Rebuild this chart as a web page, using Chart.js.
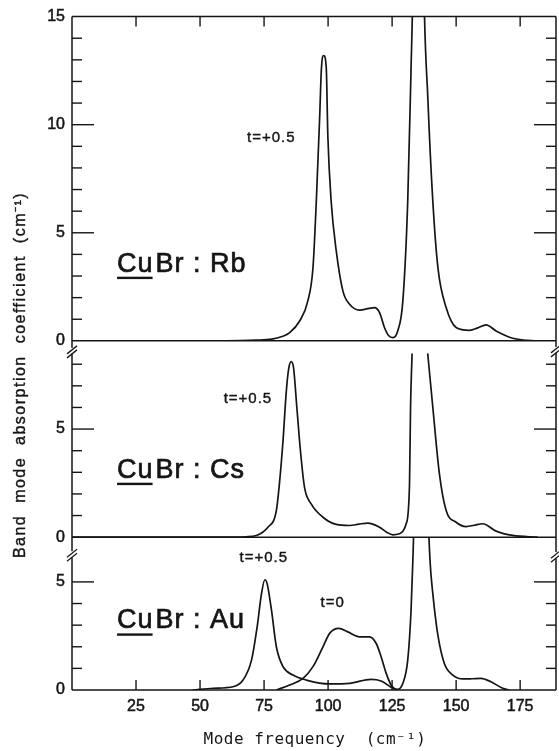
<!DOCTYPE html>
<html><head><meta charset="utf-8">
<script src="https://cdn.jsdelivr.net/npm/chart.js@4"></script>
<style>html,body{margin:0;padding:0;background:#fff}canvas{display:block}</style>
</head><body>
<canvas id="c" width="559" height="751"></canvas>
<script>
// ---- data (mode frequency in cm^-1, absorption coefficient in cm^-1) ----
const rbFreq = [0, 60, 72, 78, 82, 85, 88.9, 92.1, 94.1, 95.4, 96.7, 97.4, 98.3, 99.3, 99.9, 101.2, 103.2, 105.8, 108.4, 112.3, 116, 118.1, 120.1, 122, 123.6, 125.3, 127.2, 129.2, 131.1, 132.4, 133.2, 135.2, 137.3, 139, 140.9, 142.9, 146.1, 150, 155.2, 158.5, 161.7, 165.6, 172.1, 178, 182.5];
const rbAbs  = [0, 0, 0.03, 0.08, 0.2, 0.38, 0.92, 1.85, 3.38, 6.46, 10.3, 12.6, 13.2, 12.6, 9.5, 6.46, 4.15, 2.3, 1.69, 1.42, 1.5, 1.54, 1.31, 0.62, 0.25, 0.15, 0.46, 1.85, 6.46, 12.6, 17, 40, 17, 11.1, 6.46, 3.38, 1.54, 0.62, 0.49, 0.6, 0.74, 0.46, 0.12, 0.02, 0];

const csFreq = [0, 60, 68, 72, 76.5, 79.8, 81.1, 82.4, 83.7, 84.7, 85.6, 86.5, 87.8, 89.2, 90.8, 93.4, 98, 103.2, 108.4, 112, 115.5, 120.1, 123, 125.3, 127.9, 130.5, 131.8, 132.2, 132.8, 135.8, 138.9, 140.9, 143.5, 146.1, 150, 153.9, 157, 160.4, 165.6, 172.1, 181.8];
const csAbs  = [0, 0, 0.02, 0.08, 0.46, 1.23, 2.6, 4.46, 6.77, 7.85, 8.12, 7.85, 6, 4, 2.3, 1.54, 0.92, 0.59, 0.54, 0.6, 0.65, 0.46, 0.22, 0.11, 0.16, 0.62, 2.46, 6, 8.5, null, 8.5, 6, 2.9, 1.23, 0.69, 0.49, 0.55, 0.62, 0.28, 0.08, 0];

const auFreq = [47.2, 55.1, 62.9, 66.8, 70.1, 72.3, 74, 75.3, 76.2, 77.9, 79.8, 82.4, 86.3, 91.5, 100.6, 108.4, 116.8, 120.7, 125.3, 127.2, 129.2, 131.1, 132.4, 133.1, 133.6, 136.3, 139, 139.8, 140.9, 142.8, 145.4, 148.7, 152.6, 156, 159.7, 163.6, 168.2, 170.8];
const auAbs  = [0, 0.08, 0.15, 0.46, 1.38, 2.92, 4.46, 5.1, 4.92, 3.69, 2, 1.08, 0.69, 0.46, 0.28, 0.31, 0.49, 0.42, 0.08, 0.03, 0.31, 1.38, 3.69, 6, 8, 25, 8.5, 6, 4.46, 2.6, 1.23, 0.69, 0.51, 0.52, 0.54, 0.38, 0.08, 0];

const au0Freq = [79.8, 85, 90.2, 94.1, 98, 100.6, 104.2, 107.7, 112.3, 116.2, 118.8, 120.7, 122.7, 124.6, 126.6];
const au0Abs  = [0, 0.23, 0.54, 1.08, 2, 2.62, 2.85, 2.69, 2.46, 2.46, 2.15, 1.54, 0.77, 0.23, 0];

const xTickValues = [25, 50, 75, 100, 125, 150, 175];
const yTopTicks = [0, 5, 10, 15];
const yMidTicks = [0, 5];
const yBotTicks = [0, 5];
const panelDopants = ['Rb', 'Cs', 'Au'];
const xTitle = 'Mode frequency  (cm\u207B\u00B9)';
const yTitle = 'Band  mode  absorption  coefficient  (cm\u207B\u00B9)';

// ---- helpers ----
const INK = '#151515';
const pts = (xs, ys) => xs.map((x, i) => ({x: x, y: ys[i]}));
const lineDs = (xs, ys, yAxisID) => ({
  data: pts(xs, ys), yAxisID: yAxisID, borderColor: INK, borderWidth: 1.7,
  pointRadius: 0, fill: false, cubicInterpolationMode: 'monotone', spanGaps: false
});
const tickFont = {family: '"Liberation Sans", Arial, sans-serif', size: 16};
const yAxis = (max, weight, labels) => ({
  type: 'linear', position: 'left', stack: 'panels', stackWeight: weight,
  min: 0, max: max,
  grid: {display: false, drawTicks: false}, border: {display: false},
  ticks: {stepSize: 5, includeBounds: false, color: INK, font: tickFont, padding: 7,
          textStrokeColor: INK, textStrokeWidth: 0.5,
          callback: v => labels.includes(v) ? String(v) : ''},
  afterFit: s => { s.width = 72; }
});

const decor = {
  id: 'decor',
  afterDatasetsDraw(chart, args, o) {
    const ctx = chart.ctx;
    const xs = chart.scales.x;
    const yT = chart.scales.yTop, yM = chart.scales.yMid, yB = chart.scales.yBot;
    const L = xs.left, R = xs.right, T = yT.top, B = yB.bottom;
    ctx.save();
    ctx.strokeStyle = INK; ctx.fillStyle = INK; ctx.lineCap = 'butt';
    ctx.lineWidth = 1.5;
    const line = (x1, y1, x2, y2) => { ctx.beginPath(); ctx.moveTo(x1, y1); ctx.lineTo(x2, y2); ctx.stroke(); };
    // frame and panel baselines
    line(L, T, R, T); line(L, B, R, B); line(L, T, L, B); line(R, T, R, B);
    line(L, yT.bottom, R, yT.bottom); line(L, yM.bottom, R, yM.bottom);
    // inward y ticks (both sides)
    ctx.lineWidth = 1.4;
    [[yT, 14], [yM, 8], [yB, 5]].forEach(([s, n]) => {
      for (let v = 1; v <= n; v++) {
        const y = s.getPixelForValue(v);
        const len = v % 5 === 0 ? 22 : 10;
        line(L, y, L + len, y); line(R - len, y, R, y);
      }
    });
    // inward x ticks top and bottom
    xTickValues.forEach(v => {
      const x = xs.getPixelForValue(v);
      line(x, T, x, T + 10); line(x, B, x, B - 10);
    });
    // axis break marks
    ctx.lineWidth = 1.3;
    const brk = (x, y) => {
      ctx.save(); ctx.strokeStyle = '#fff'; ctx.lineWidth = 3;
      line(x, y - 2, x, y + 4); ctx.restore();
      line(x - 5, y + 4, x + 5, y - 4); line(x - 5, y + 8, x + 5, y);
    };
    brk(L, yM.top + 9); brk(L, yB.top + 16);
    brk(R, yM.top + 8); brk(R, yB.top + 17);
    // panel labels
    const panels = [[yT, 3.2], [yM, 2.75], [yB, 2.85]];
    ctx.font = '27px "Liberation Sans", Arial, sans-serif';
    ctx.letterSpacing = '1px';
    ctx.lineWidth = 0.7;
    ctx.textAlign = 'left'; ctx.textBaseline = 'alphabetic';
    panels.forEach(([s, v], i) => {
      const x = xs.getPixelForValue(17.6), y = s.getPixelForValue(v);
      ctx.fillText('Cu', x, y); ctx.strokeText('Cu', x, y);
      const wCu = ctx.measureText('Cu').width;
      const rest = 'Br : ' + panelDopants[i];
      ctx.fillText(rest, x + wCu + 2, y); ctx.strokeText(rest, x + wCu + 2, y);
      ctx.fillRect(x, y + 5, wCu - 1, 2.4);
    });
    // curve annotations
    ctx.font = '15px "Liberation Sans", Arial, sans-serif';
    ctx.letterSpacing = '1px';
    ctx.lineWidth = 0.4;
    ctx.textAlign = 'center'; ctx.textBaseline = 'middle';
    o.notes.forEach(n => {
      const s = chart.scales[n.axis];
      const px = xs.getPixelForValue(n.x), py = s.getPixelForValue(n.y);
      ctx.fillText(n.text, px, py); ctx.strokeText(n.text, px, py);
    });
    // axis titles
    ctx.letterSpacing = '0.5px';
    ctx.font = '16px "DejaVu Sans Mono", "Liberation Mono", monospace';
    ctx.fillText(xTitle, (L + R) / 2 + 1, 740);
    ctx.save();
    ctx.translate(21, 375); ctx.rotate(-Math.PI / 2);
    ctx.letterSpacing = '1.5px';
    ctx.font = '16px "Liberation Sans", Arial, sans-serif';
    ctx.fillText(yTitle, 0, 0); ctx.strokeText(yTitle, 0, 0);
    ctx.restore();
    ctx.restore();
  }
};

new Chart(document.getElementById('c'), {
  type: 'line',
  data: {
    datasets: [
      lineDs(rbFreq, rbAbs, 'yTop'),
      lineDs(csFreq, csAbs, 'yMid'),
      lineDs(auFreq, auAbs, 'yBot'),
      lineDs(au0Freq, au0Abs, 'yBot')
    ]
  },
  options: {
    responsive: false, animation: false, devicePixelRatio: 1,
    layout: {padding: {top: 15, right: 3, left: 0, bottom: 0}},
    plugins: {
      legend: {display: false}, tooltip: {enabled: false},
      decor: {notes: [
        {text: 't=+0.5', axis: 'yTop', x: 77.8, y: 9.41},
        {text: 't=+0.5', axis: 'yMid', x: 68.7, y: 6.42},
        {text: 't=+0.5', axis: 'yBot', x: 74.9, y: 6.11},
        {text: 't=0', axis: 'yBot', x: 101.8, y: 4.04}
      ]}
    },
    scales: {
      x: {
        type: 'linear', position: 'bottom', min: 0, max: 189,
        grid: {display: false, drawTicks: false}, border: {display: false},
        ticks: {stepSize: 25, includeBounds: false, color: INK, font: tickFont, padding: 7,
                textStrokeColor: INK, textStrokeWidth: 0.5,
                callback: v => xTickValues.includes(v) ? String(v) : ''},
        afterFit: s => { s.height = 61; }
      },
      yBot: yAxis(7.07, 7.07, yBotTicks),
      yMid: yAxis(9.08, 9.08, yMidTicks),
      yTop: yAxis(15, 15, yTopTicks)
    }
  },
  plugins: [decor]
});
</script>
</body></html>
